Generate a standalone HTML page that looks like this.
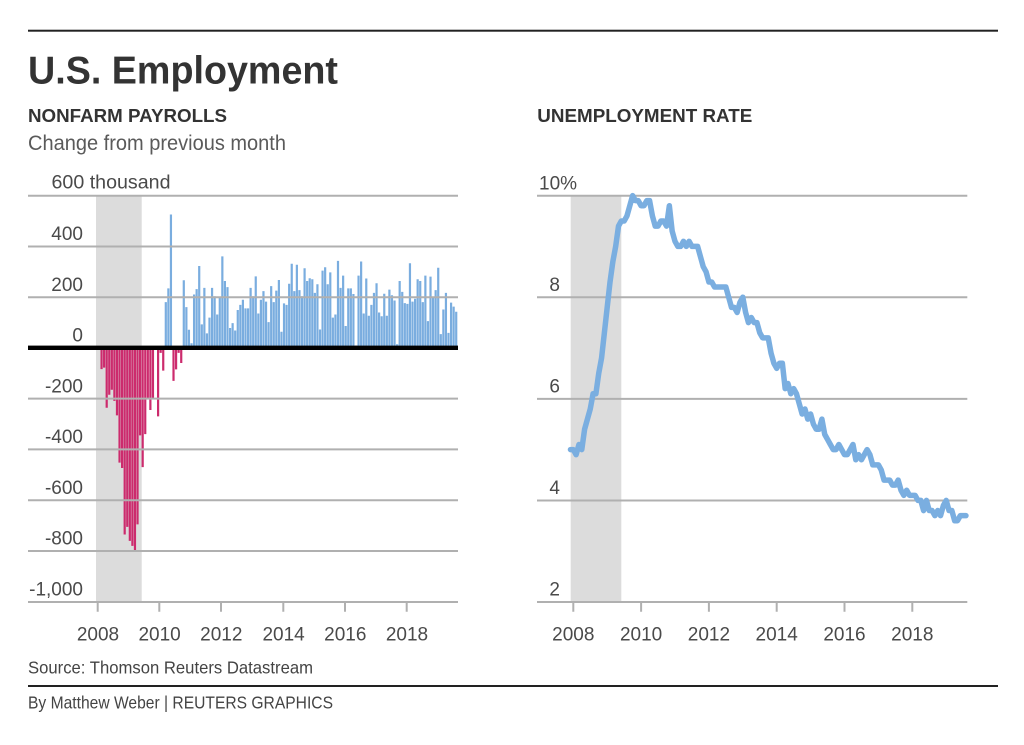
<!DOCTYPE html>
<html>
<head>
<meta charset="utf-8">
<style>
  html,body{margin:0;padding:0;background:#fff;}
  svg{display:block;}
  text{font-family:"Liberation Sans",sans-serif;}
</style>
</head>
<body>
<svg width="1024" height="745" viewBox="0 0 1024 745" xmlns="http://www.w3.org/2000/svg">
  <rect x="0" y="0" width="1024" height="745" fill="#fff"/>
  <defs>
    <clipPath id="above"><rect x="0" y="0" width="520" height="347.8"/></clipPath>
    <clipPath id="below"><rect x="0" y="347.8" width="520" height="300"/></clipPath>
    <path id="bars" transform="matrix(2.57,0,0,-0.254,98.985,347.8)" fill="none" stroke-width="2.2" vector-effect="non-scaling-stroke"
      d="M0 0V5M1 0V-84M2 0V-78M3 0V-236M4 0V-185M5 0V-165M6 0V-209M7 0V-266M8 0V-452M9 0V-473M10 0V-735M11 0V-705
         M12 0V-760M13 0V-780M14 0V-800M15 0V-695M16 0V-345M17 0V-470M18 0V-340M19 0V-200M20 0V-245M21 0V-200M22 0V5M23 0V-270
         M24 0V-20M25 0V-90M26 0V180M27 0V234M28 0V525M29 0V-130M30 0V-85M31 0V-20M32 0V-60M33 0V266M34 0V160M35 0V71
         M36 0V18M37 0V210M38 0V231M39 0V322M40 0V92M41 0V236M42 0V57M43 0V119M44 0V236M45 0V203M46 0V131M47 0V200
         M48 0V360M49 0V263M50 0V239M51 0V78M52 0V97M53 0V68M54 0V149M55 0V169M56 0V189M57 0V155M58 0V155M59 0V236
         M60 0V203M61 0V281M62 0V135M63 0V189M64 0V223M65 0V182M66 0V101M67 0V243M68 0V180M69 0V225M70 0V267M71 0V63
         M72 0V175M73 0V169M74 0V252M75 0V331M76 0V223M77 0V327M78 0V227M79 0V203M80 0V313M81 0V263M82 0V274M83 0V270
         M84 0V216M85 0V250M86 0V72M87 0V304M88 0V317M89 0V250M90 0V297M91 0V119M92 0V131M93 0V342M94 0V236M95 0V284
         M96 0V86M97 0V234M98 0V234M99 0V212M100 0V9M101 0V284M102 0V340M103 0V135M104 0V273M105 0V126M106 0V169M107 0V216
         M108 0V254M109 0V139M110 0V124M111 0V213M112 0V126M113 0V229M114 0V207M115 0V186M116 0V14M117 0V263M118 0V220M119 0V176
         M120 0V173M121 0V333M122 0V182M123 0V193M124 0V270M125 0V263M126 0V180M127 0V284M128 0V105M129 0V280M130 0V196M131 0V227
         M132 0V315M133 0V54M134 0V151M135 0V216M136 0V59M137 0V178M138 0V162M139 0V142"/>
  </defs>

  <!-- rules -->
  <rect x="28" y="29.7" width="970" height="2" fill="#222"/>
  <rect x="28" y="685" width="970" height="2" fill="#222"/>

  <!-- titles -->
  <text x="28" y="83.3" font-size="39" font-weight="bold" fill="#333" textLength="310" lengthAdjust="spacingAndGlyphs">U.S. Employment</text>
  <text x="28" y="121.8" font-size="18.5" font-weight="bold" fill="#333" textLength="199" lengthAdjust="spacingAndGlyphs">NONFARM PAYROLLS</text>
  <text x="537.3" y="121.8" font-size="18.5" font-weight="bold" fill="#333" textLength="215" lengthAdjust="spacingAndGlyphs">UNEMPLOYMENT RATE</text>
  <text x="28" y="150" font-size="21" fill="#5a5a5a" textLength="258" lengthAdjust="spacingAndGlyphs">Change from previous month</text>

  <!-- LEFT CHART -->
  <rect x="96" y="195.7" width="45.7" height="406.3" fill="#dcdcdc"/>
  <use href="#bars" stroke="#7aaddf" clip-path="url(#above)"/>
  <use href="#bars" stroke="#cc2b6d" clip-path="url(#below)"/>
  <g stroke="#b0b0b0" stroke-width="2" fill="none">
    <path d="M28 195.7H458M28 246.5H458M28 297.3H458M28 398.6H458M28 449.4H458M28 500.2H458M28 551H458M28 602H458"/>
    <path d="M97.7 602V611.7M159.3 602V611.7M221 602V611.7M283.3 602V611.7M345 602V611.7M406.7 602V611.7"/>
  </g>
  <rect x="28" y="345.6" width="430" height="4.4" fill="#000"/>

  <g font-size="19" fill="#4a4a4a">
    <text x="51.5" y="188.3" textLength="119" lengthAdjust="spacingAndGlyphs">600 thousand</text>
    <g text-anchor="end">
      <text x="83" y="240">400</text>
      <text x="83" y="290.8">200</text>
      <text x="83" y="341.5">0</text>
      <text x="83" y="392.3">-200</text>
      <text x="83" y="443">-400</text>
      <text x="83" y="493.8">-600</text>
      <text x="83" y="544.6">-800</text>
      <text x="83" y="595.5">-1,000</text>
    </g>
    <g text-anchor="middle">
      <text x="98" y="640.5">2008</text>
      <text x="159.6" y="640.5">2010</text>
      <text x="221.3" y="640.5">2012</text>
      <text x="283.6" y="640.5">2014</text>
      <text x="345.3" y="640.5">2016</text>
      <text x="407" y="640.5">2018</text>
    </g>
  </g>

  <!-- RIGHT CHART -->
  <rect x="570.7" y="195.7" width="50.6" height="406.3" fill="#dcdcdc"/>
  <g stroke="#b0b0b0" stroke-width="2" fill="none">
    <path d="M537 195.7H967.3M537 297.3H967.3M537 398.9H967.3M537 500.5H967.3M537 602H967.3"/>
    <path d="M573.3 602V611.7M641.1 602V611.7M708.9 602V611.7M776.7 602V611.7M844.5 602V611.7M912.3 602V611.7"/>
  </g>
  <polyline transform="matrix(2.825,0,0,-50.8,573.3,703.6)" fill="none" stroke="#7aaee0" stroke-width="5.5"
    stroke-linejoin="round" stroke-linecap="round" vector-effect="non-scaling-stroke"
    points="-1,5 0,5 1,4.9 2,5.1 3,5 4,5.4 5,5.6 6,5.8 7,6.1 8,6.1 9,6.5 10,6.8 11,7.3
            12,7.8 13,8.3 14,8.7 15,9 16,9.4 17,9.5 18,9.5 19,9.6 20,9.8 21,10 22,9.9 23,9.9
            24,9.8 25,9.8 26,9.9 27,9.9 28,9.6 29,9.4 30,9.4 31,9.5 32,9.5 33,9.4 34,9.8 35,9.3
            36,9.1 37,9 38,9 39,9.1 40,9 41,9.1 42,9 43,9 44,9 45,8.8 46,8.6 47,8.5
            48,8.3 49,8.3 50,8.2 51,8.2 52,8.2 53,8.2 54,8.2 55,8 56,7.8 57,7.8 58,7.7 59,7.9
            60,8 61,7.7 62,7.5 63,7.6 64,7.5 65,7.5 66,7.3 67,7.2 68,7.2 69,7.2 70,6.9 71,6.7
            72,6.6 73,6.7 74,6.7 75,6.2 76,6.3 77,6.1 78,6.2 79,6.1 80,5.9 81,5.7 82,5.8 83,5.6
            84,5.7 85,5.5 86,5.4 87,5.4 88,5.6 89,5.3 90,5.2 91,5.1 92,5 93,5 94,5.1 95,5
            96,4.9 97,4.9 98,5 99,5.1 100,4.8 101,4.9 102,4.8 103,4.9 104,5 105,4.9 106,4.7 107,4.7
            108,4.7 109,4.6 110,4.4 111,4.4 112,4.4 113,4.3 114,4.3 115,4.4 116,4.2 117,4.1 118,4.2 119,4.1
            120,4.1 121,4.1 122,4 123,4 124,3.8 125,4 126,3.8 127,3.8 128,3.7 129,3.8 130,3.7 131,3.9
            132,4 133,3.8 134,3.8 135,3.6 136,3.6 137,3.7 138,3.7 139,3.7"/>

  <g font-size="19" fill="#4a4a4a">
    <text x="539" y="189.3">10%</text>
    <g text-anchor="end">
      <text x="560" y="290.8">8</text>
      <text x="560" y="392.4">6</text>
      <text x="560" y="494">4</text>
      <text x="560" y="595.5">2</text>
    </g>
    <g text-anchor="middle">
      <text x="573.3" y="640.5">2008</text>
      <text x="641.1" y="640.5">2010</text>
      <text x="708.9" y="640.5">2012</text>
      <text x="776.7" y="640.5">2014</text>
      <text x="844.5" y="640.5">2016</text>
      <text x="912.3" y="640.5">2018</text>
    </g>
  </g>

  <!-- footer -->
  <text x="28" y="673.3" font-size="17.5" fill="#444" textLength="285" lengthAdjust="spacingAndGlyphs">Source: Thomson Reuters Datastream</text>
  <text x="28" y="708.3" font-size="17.5" fill="#444" textLength="305" lengthAdjust="spacingAndGlyphs">By Matthew Weber | REUTERS GRAPHICS</text>
</svg>
</body>
</html>
